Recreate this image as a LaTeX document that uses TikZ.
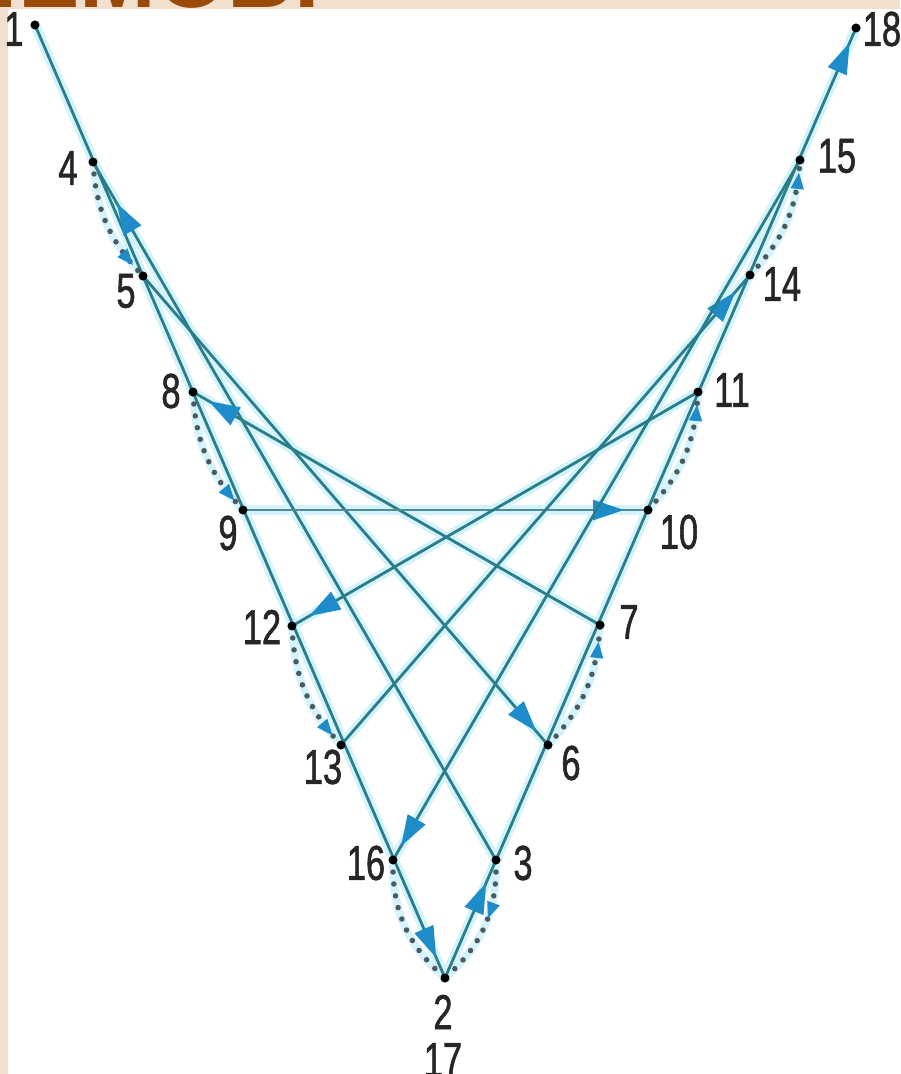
\documentclass[tikz,border=0pt]{standalone}
\usepackage{fontspec}
\usetikzlibrary{arrows.meta,decorations.markings}
\newfontfamily\labfont[FakeStretch=0.7,FakeBold=1.2]{Liberation Sans}
\newfontfamily\titlefont{Liberation Sans}
\definecolor{beige}{HTML}{F2E0CF}
\definecolor{thread}{HTML}{2A7E8C}
\definecolor{threadgray}{HTML}{4F8C97}
\definecolor{halocol}{HTML}{D4F3FA}
\definecolor{ablue}{HTML}{1E8CC8}
\definecolor{dotcol}{HTML}{4A5A60}
\definecolor{browncol}{HTML}{9A4A08}
\tikzset{
  halo/.style={draw=halocol, line width=10pt, line cap=round},
  thr/.style={draw=thread, line width=2.8pt},
  dots/.style={draw=dotcol, line width=5.5pt, line cap=round, dash pattern=on 0pt off 12pt},
  arr/.style={postaction={decorate,decoration={markings,
      mark=at position #1 with {\arrow{Triangle[length=31pt,width=20pt,color=ablue]}}}}},
  sarr/.style={postaction={decorate,decoration={markings,
      mark=at position #1 with {\arrow{Triangle[length=17pt,width=12pt,color=ablue]}}}}},
  pt/.style={circle, fill=black, inner sep=0pt, minimum size=9pt},
  lab/.style={font=\labfont\fontsize{49}{49}\selectfont, text=black!85, inner sep=0pt},
  titletext/.style={font=\titlefont\bfseries\fontsize{92}{92}\selectfont, text=browncol, inner sep=0pt}
}
\begin{document}
\begin{tikzpicture}[x=1pt,y=-1pt]
\useasboundingbox (0,0) rectangle (900,1074);
\fill[beige] (0,0) rectangle (900,1074);
\node[titletext, anchor=base east] (title) at (320,7.5) {ПРИЁМОВ.};
\fill[white] (8,9) rectangle (900,1074);

% points
\node[pt] (p1)  at (35,25)  {};
\node[pt] (p18) at (856,28) {};
\node[pt] (p4)  at (93,162) {};
\node[pt] (p15) at (800,160) {};
\node[pt] (p5)  at (143,276) {};
\node[pt] (p14) at (750,275) {};
\node[pt] (p8)  at (193,392) {};
\node[pt] (p11) at (698,392) {};
\node[pt] (p9)  at (243,510) {};
\node[pt] (p10) at (648,510) {};
\node[pt] (p12) at (292,626) {};
\node[pt] (p7)  at (600,625) {};
\node[pt] (p13) at (341,745) {};
\node[pt] (p6)  at (548,745) {};
\node[pt] (p16) at (393,860) {};
\node[pt] (p3)  at (496,860) {};
\node[pt] (p2)  at (445,978) {};

% halos
\foreach \a/\b in {p1/p2,p2/p18,p3/p4,p5/p6,p7/p8,p9/p10,p11/p12,p13/p14,p15/p16}
  \draw[halo] (\a.center) -- (\b.center);
\foreach \a/\b in {p4/p5,p6/p7,p8/p9,p10/p11,p12/p13,p14/p15}
  \draw[halo, line width=8pt] (\a.center) to[bend right=20] (\b.center);
\draw[halo, line width=8pt] (p16.center) to[bend right=25] (p2.center);
\draw[halo, line width=8pt] (p3.center) to[bend left=25] (p2.center);

% threads (front)
\draw[thr, arr=-22pt] (p1.center) -- (p2.center);
\draw[thr, arr=104pt, arr=-16pt] (p2.center) -- (p18.center);
\draw[thr, arr=-48pt] (p3.center) -- (p4.center);
\draw[thr, arr=-18pt] (p5.center) -- (p6.center);
\draw[thr, arr=-18pt] (p7.center) -- (p8.center);
\draw[thr, draw=threadgray, arr=-24pt] (p9.center) -- (p10.center);
\draw[thr, arr=-20pt] (p11.center) -- (p12.center);
\draw[thr, arr=-22pt] (p13.center) -- (p14.center);
\draw[thr, arr=-16pt] (p15.center) -- (p16.center);

% threads (back, dotted)
\draw[dots, sarr=-14pt] (p4.center) to[bend right=20] (p5.center);
\draw[dots, sarr=-16pt] (p6.center) to[bend right=20] (p7.center);
\draw[dots, sarr=-12pt] (p8.center) to[bend right=20] (p9.center);
\draw[dots, sarr=-12pt] (p10.center) to[bend right=20] (p11.center);
\draw[dots, sarr=-12pt] (p12.center) to[bend right=20] (p13.center);
\draw[dots, sarr=-12pt] (p14.center) to[bend right=20] (p15.center);
\draw[dots] (p16.center) to[bend right=25] (p2.center);
\draw[dots, sarr=60pt] (p3.center) to[bend left=25] (p2.center);

% redraw points on top
\foreach \p in {p1,p18,p4,p15,p5,p14,p8,p11,p9,p10,p12,p7,p13,p6,p16,p3,p2}
  \fill[black] (\p.center) circle (4.5pt);

% labels
\node[lab] (l1)  at (14,29)   {1};
\node[lab] (l18) at (882,29)  {18};
\node[lab] (l4)  at (68,168)  {4};
\node[lab] (l15) at (837,156) {15};
\node[lab] (l5)  at (126,291) {5};
\node[lab] (l14) at (782,284) {14};
\node[lab] (l8)  at (171,391) {8};
\node[lab] (l11) at (732,390) {11};
\node[lab] (l9)  at (228,533) {9};
\node[lab] (l10) at (679,532) {10};
\node[lab] (l12) at (262,627) {12};
\node[lab] (l7)  at (629,622) {7};
\node[lab] (l13) at (323,767) {13};
\node[lab] (l6)  at (571,763) {6};
\node[lab] (l16) at (366,863) {16};
\node[lab] (l3)  at (523,863) {3};
\node[lab] (l2)  at (443,1012) {2};
\node[lab] (l17) at (443,1060) {17};
\end{tikzpicture}
\end{document}
